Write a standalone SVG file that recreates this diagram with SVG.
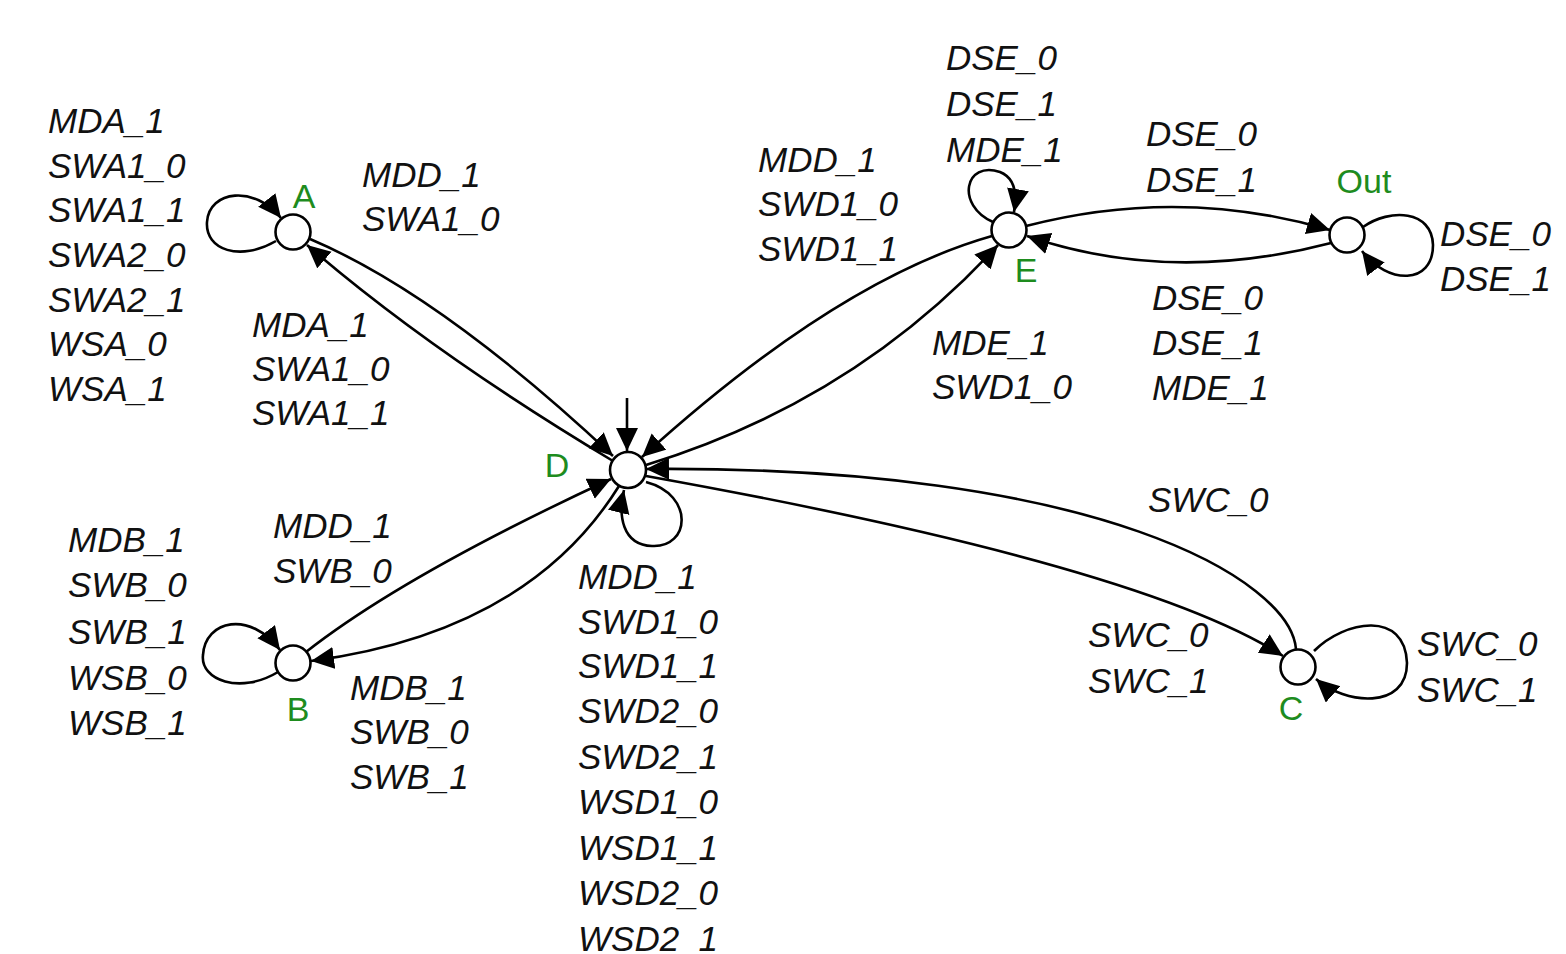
<svg xmlns="http://www.w3.org/2000/svg" width="1566" height="954" viewBox="0 0 1566 954">
<style>
.n{fill:#fff;stroke:#000;stroke-width:2.6}
.e{fill:none;stroke:#000;stroke-width:2.6;marker-end:url(#ah)}
.t{font-family:"Liberation Sans",Arial,sans-serif;font-style:italic;font-size:35px;fill:#111}
.l{font-family:"Liberation Sans",Arial,sans-serif;font-size:34px;fill:#1e8c1e;text-anchor:middle}
</style>
<defs>
<marker id="ah" markerUnits="userSpaceOnUse" markerWidth="26" markerHeight="24" refX="23" refY="11" orient="auto">
<path d="M0,0 L23,11 L0,22 z" fill="#000"/>
</marker>
</defs>
<rect width="1566" height="954" fill="#fff"/>
<g id="connectors">
<path class="e" d="M627,398 L627,451"/>
<path class="e" d="M276,241 C240,262 205,250 207,222 C209,190 255,185 281,218"/>
<path class="e" d="M310,239 Q440,294 613,456"/>
<path class="e" d="M613,461 Q431,352 307,245"/>
<path class="e" d="M646,482 C695,495 690,548 652,546 C622,545 618,515 624,490"/>
<path class="e" d="M992,236 Q837,280 642,457"/>
<path class="e" d="M646,465 Q855,401 998,245"/>
<path class="e" d="M993,222 C955,205 965,160 1000,172 C1015,178 1017,195 1014,212"/>
<path class="e" d="M1026,226 Q1180,186 1330,230"/>
<path class="e" d="M1331,243 Q1170,285 1027,236"/>
<path class="e" d="M1363,227 C1390,208 1432,210 1433,245 C1433,285 1388,285 1362,251"/>
<path class="e" d="M1296,649 C1290,580 1100,465 646,469"/>
<path class="e" d="M646,476 Q1142,565 1283,656"/>
<path class="e" d="M1314,651 C1345,620 1405,610 1407,663 C1407,710 1345,705 1316,679"/>
<path class="e" d="M278,672 C240,695 200,680 203,655 C205,620 250,610 280,650"/>
<path class="e" d="M306,652 Q404,575 611,479"/>
<path class="e" d="M619,486 Q528,632 311,661"/>
</g>
<g id="node-A"><circle class="n" cx="293" cy="232" r="17.5"/><text class="l" x="304" y="208">A</text></g>
<g id="node-D"><circle class="n" cx="628" cy="470" r="18"/><text class="l" x="557" y="477">D</text></g>
<g id="node-E"><circle class="n" cx="1009" cy="230" r="17.5"/><text class="l" x="1026" y="282">E</text></g>
<g id="node-Out"><circle class="n" cx="1347" cy="235" r="17.5"/><text class="l" x="1364" y="193">Out</text></g>
<g id="node-B"><circle class="n" cx="293" cy="663" r="17.5"/><text class="l" x="298" y="721">B</text></g>
<g id="node-C"><circle class="n" cx="1298" cy="667" r="17.5"/><text class="l" x="1291" y="720">C</text></g>
<g id="labels">
<text class="t"><tspan x="48" y="133">MDA_1</tspan><tspan x="48" y="178">SWA1_0</tspan><tspan x="48" y="222">SWA1_1</tspan><tspan x="48" y="267">SWA2_0</tspan><tspan x="48" y="312">SWA2_1</tspan><tspan x="48" y="356">WSA_0</tspan><tspan x="48" y="401">WSA_1</tspan></text>
<text class="t"><tspan x="362" y="187">MDD_1</tspan><tspan x="362" y="231">SWA1_0</tspan></text>
<text class="t"><tspan x="252" y="337">MDA_1</tspan><tspan x="252" y="381">SWA1_0</tspan><tspan x="252" y="425">SWA1_1</tspan></text>
<text class="t"><tspan x="758" y="172">MDD_1</tspan><tspan x="758" y="216">SWD1_0</tspan><tspan x="758" y="261">SWD1_1</tspan></text>
<text class="t"><tspan x="946" y="70">DSE_0</tspan><tspan x="946" y="116">DSE_1</tspan><tspan x="946" y="162">MDE_1</tspan></text>
<text class="t"><tspan x="1146" y="146">DSE_0</tspan><tspan x="1146" y="192">DSE_1</tspan></text>
<text class="t"><tspan x="1440" y="246">DSE_0</tspan><tspan x="1440" y="291">DSE_1</tspan></text>
<text class="t"><tspan x="1152" y="310">DSE_0</tspan><tspan x="1152" y="355">DSE_1</tspan><tspan x="1152" y="400">MDE_1</tspan></text>
<text class="t"><tspan x="932" y="355">MDE_1</tspan><tspan x="932" y="399">SWD1_0</tspan></text>
<text class="t"><tspan x="1148" y="512">SWC_0</tspan></text>
<text class="t"><tspan x="1088" y="647">SWC_0</tspan><tspan x="1088" y="693">SWC_1</tspan></text>
<text class="t"><tspan x="1417" y="656">SWC_0</tspan><tspan x="1417" y="702">SWC_1</tspan></text>
<text class="t"><tspan x="68" y="552">MDB_1</tspan><tspan x="68" y="597">SWB_0</tspan><tspan x="68" y="644">SWB_1</tspan><tspan x="68" y="690">WSB_0</tspan><tspan x="68" y="735">WSB_1</tspan></text>
<text class="t"><tspan x="273" y="538">MDD_1</tspan><tspan x="273" y="583">SWB_0</tspan></text>
<text class="t"><tspan x="350" y="700">MDB_1</tspan><tspan x="350" y="744">SWB_0</tspan><tspan x="350" y="789">SWB_1</tspan></text>
<text class="t"><tspan x="578" y="589">MDD_1</tspan><tspan x="578" y="634">SWD1_0</tspan><tspan x="578" y="678">SWD1_1</tspan><tspan x="578" y="723">SWD2_0</tspan><tspan x="578" y="769">SWD2_1</tspan><tspan x="578" y="814">WSD1_0</tspan><tspan x="578" y="860">WSD1_1</tspan><tspan x="578" y="905">WSD2_0</tspan><tspan x="578" y="951">WSD2_1</tspan></text>
</g>
</svg>
